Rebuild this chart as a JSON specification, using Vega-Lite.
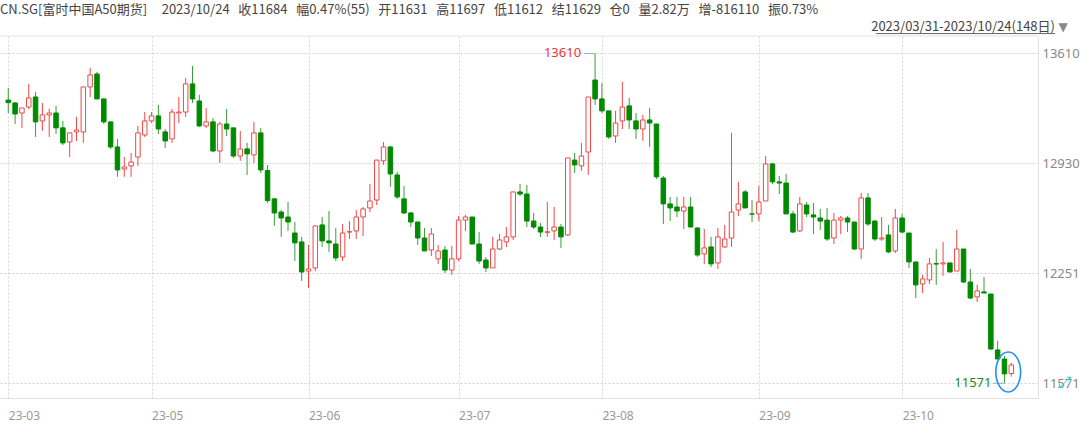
{
  "$schema": "https://vega.github.io/schema/vega-lite/v6.json",
  "width": 1038,
  "height": 362,
  "autosize": {"type": "none"},
  "padding": {"left": 0, "top": 36, "right": 42, "bottom": 28},
  "background": "white",
  "config": {"view": {"stroke": null}, "font": "Noto Sans CJK SC"},
  "title": {
    "text": "CN.SG[富时中国A50期货]\u00a0\u00a0\u00a0\u00a0\u00a02023/10/24\u00a0\u00a0\u00a0收11684\u00a0\u00a0\u00a0幅0.47%(55)\u00a0\u00a0\u00a0开11631\u00a0\u00a0\u00a0高11697\u00a0\u00a0\u00a0低11612\u00a0\u00a0\u00a0结11629\u00a0\u00a0\u00a0仓0\u00a0\u00a0\u00a0量2.82万\u00a0\u00a0\u00a0增-816110\u00a0\u00a0\u00a0振0.73%",
    "anchor": "start",
    "frame": "group",
    "orient": "top",
    "offset": 3,
    "dy": 12,
    "baseline": "bottom",
    "font": "Noto Sans CJK SC",
    "fontSize": 13,
    "fontWeight": "normal",
    "color": "#444"
  },
  "datasets": {
    "k": [
      {"i":0,"o":13322,"h":13397,"l":13242,"c":13306},
      {"i":1,"o":13304,"h":13310,"l":13174,"c":13236},
      {"i":2,"o":13242,"h":13273,"l":13150,"c":13273},
      {"i":3,"o":13279,"h":13422,"l":13267,"c":13335},
      {"i":4,"o":13341,"h":13372,"l":13094,"c":13187},
      {"i":5,"o":13193,"h":13304,"l":13131,"c":13230},
      {"i":6,"o":13230,"h":13267,"l":13094,"c":13242},
      {"i":7,"o":13242,"h":13286,"l":13112,"c":13150},
      {"i":8,"o":13150,"h":13193,"l":13044,"c":13057},
      {"i":9,"o":13063,"h":13119,"l":12970,"c":13119},
      {"i":10,"o":13125,"h":13218,"l":13069,"c":13137},
      {"i":11,"o":13125,"h":13403,"l":13057,"c":13403},
      {"i":12,"o":13403,"h":13521,"l":13341,"c":13477},
      {"i":13,"o":13483,"h":13496,"l":13329,"c":13329},
      {"i":14,"o":13329,"h":13329,"l":13174,"c":13187},
      {"i":15,"o":13187,"h":13187,"l":13020,"c":13032},
      {"i":16,"o":13032,"h":13082,"l":12847,"c":12890},
      {"i":17,"o":12896,"h":12970,"l":12847,"c":12908},
      {"i":18,"o":12915,"h":12995,"l":12847,"c":12939},
      {"i":19,"o":12970,"h":13162,"l":12915,"c":13119},
      {"i":20,"o":13106,"h":13248,"l":13094,"c":13193},
      {"i":21,"o":13193,"h":13248,"l":13180,"c":13224},
      {"i":22,"o":13224,"h":13292,"l":13112,"c":13143},
      {"i":23,"o":13125,"h":13143,"l":13026,"c":13069},
      {"i":24,"o":13082,"h":13267,"l":13057,"c":13248},
      {"i":25,"o":13242,"h":13341,"l":13180,"c":13248},
      {"i":26,"o":13248,"h":13459,"l":13218,"c":13422},
      {"i":27,"o":13422,"h":13533,"l":13304,"c":13329},
      {"i":28,"o":13316,"h":13354,"l":13156,"c":13162},
      {"i":29,"o":13162,"h":13273,"l":13150,"c":13187},
      {"i":30,"o":13187,"h":13211,"l":13001,"c":13007},
      {"i":31,"o":13007,"h":13187,"l":12933,"c":13174},
      {"i":32,"o":13174,"h":13267,"l":13100,"c":13143},
      {"i":33,"o":13150,"h":13150,"l":12964,"c":12976},
      {"i":34,"o":12976,"h":13131,"l":12946,"c":13020},
      {"i":35,"o":13020,"h":13057,"l":12859,"c":12989},
      {"i":36,"o":12983,"h":13187,"l":12933,"c":13119},
      {"i":37,"o":13119,"h":13150,"l":12871,"c":12890},
      {"i":38,"o":12886,"h":12921,"l":12686,"c":12700},
      {"i":39,"o":12711,"h":12717,"l":12544,"c":12624},
      {"i":40,"o":12630,"h":12642,"l":12476,"c":12593},
      {"i":41,"o":12599,"h":12692,"l":12513,"c":12568},
      {"i":42,"o":12500,"h":12568,"l":12327,"c":12439},
      {"i":43,"o":12445,"h":12476,"l":12204,"c":12259},
      {"i":44,"o":12265,"h":12426,"l":12160,"c":12278},
      {"i":45,"o":12284,"h":12544,"l":12265,"c":12544},
      {"i":46,"o":12550,"h":12599,"l":12414,"c":12451},
      {"i":47,"o":12451,"h":12636,"l":12383,"c":12439},
      {"i":48,"o":12432,"h":12531,"l":12327,"c":12346},
      {"i":49,"o":12352,"h":12556,"l":12327,"c":12500},
      {"i":50,"o":12506,"h":12574,"l":12463,"c":12508},
      {"i":51,"o":12513,"h":12642,"l":12463,"c":12599},
      {"i":52,"o":12599,"h":12661,"l":12482,"c":12649},
      {"i":53,"o":12655,"h":12803,"l":12630,"c":12698},
      {"i":54,"o":12704,"h":12951,"l":12673,"c":12951},
      {"i":55,"o":12946,"h":13063,"l":12921,"c":13032},
      {"i":56,"o":13032,"h":13038,"l":12785,"c":12865},
      {"i":57,"o":12859,"h":12878,"l":12711,"c":12723},
      {"i":58,"o":12711,"h":12791,"l":12618,"c":12624},
      {"i":59,"o":12624,"h":12630,"l":12537,"c":12568},
      {"i":60,"o":12568,"h":12568,"l":12426,"c":12469},
      {"i":61,"o":12469,"h":12531,"l":12389,"c":12389},
      {"i":62,"o":12395,"h":12531,"l":12358,"c":12494},
      {"i":63,"o":12340,"h":12426,"l":12309,"c":12389},
      {"i":64,"o":12395,"h":12420,"l":12253,"c":12271},
      {"i":65,"o":12271,"h":12420,"l":12241,"c":12340},
      {"i":66,"o":12340,"h":12605,"l":12327,"c":12580},
      {"i":67,"o":12580,"h":12612,"l":12513,"c":12599},
      {"i":68,"o":12599,"h":12599,"l":12432,"c":12432},
      {"i":69,"o":12432,"h":12506,"l":12309,"c":12327},
      {"i":70,"o":12333,"h":12352,"l":12259,"c":12284},
      {"i":71,"o":12284,"h":12476,"l":12284,"c":12401},
      {"i":72,"o":12401,"h":12494,"l":12395,"c":12457},
      {"i":73,"o":12445,"h":12537,"l":12414,"c":12476},
      {"i":74,"o":12476,"h":12754,"l":12457,"c":12754},
      {"i":75,"o":12754,"h":12803,"l":12729,"c":12741},
      {"i":76,"o":12741,"h":12797,"l":12537,"c":12574},
      {"i":77,"o":12574,"h":12624,"l":12525,"c":12537},
      {"i":78,"o":12537,"h":12562,"l":12476,"c":12506},
      {"i":79,"o":12504,"h":12692,"l":12476,"c":12508},
      {"i":80,"o":12513,"h":12661,"l":12457,"c":12537},
      {"i":81,"o":12537,"h":12556,"l":12407,"c":12476},
      {"i":82,"o":12488,"h":12964,"l":12482,"c":12964},
      {"i":83,"o":12951,"h":12995,"l":12871,"c":12921},
      {"i":84,"o":12915,"h":13057,"l":12884,"c":12976},
      {"i":85,"o":13001,"h":13341,"l":12859,"c":13341},
      {"i":86,"o":13446,"h":13610,"l":13292,"c":13329},
      {"i":87,"o":13329,"h":13428,"l":13242,"c":13255},
      {"i":88,"o":13255,"h":13255,"l":13082,"c":13094},
      {"i":89,"o":13100,"h":13255,"l":13057,"c":13180},
      {"i":90,"o":13193,"h":13434,"l":13143,"c":13279},
      {"i":91,"o":13286,"h":13335,"l":13143,"c":13199},
      {"i":92,"o":13193,"h":13242,"l":13082,"c":13143},
      {"i":93,"o":13143,"h":13230,"l":13069,"c":13199},
      {"i":94,"o":13199,"h":13273,"l":13032,"c":13180},
      {"i":95,"o":13174,"h":13174,"l":12834,"c":12847},
      {"i":96,"o":12840,"h":12853,"l":12556,"c":12680},
      {"i":97,"o":12680,"h":12723,"l":12574,"c":12655},
      {"i":98,"o":12661,"h":12723,"l":12599,"c":12636},
      {"i":99,"o":12636,"h":12723,"l":12525,"c":12661},
      {"i":100,"o":12661,"h":12723,"l":12537,"c":12537},
      {"i":101,"o":12531,"h":12537,"l":12352,"c":12364},
      {"i":102,"o":12371,"h":12525,"l":12309,"c":12408},
      {"i":103,"o":12414,"h":12476,"l":12290,"c":12309},
      {"i":104,"o":12315,"h":12531,"l":12278,"c":12476},
      {"i":105,"o":12414,"h":12550,"l":12408,"c":12463},
      {"i":106,"o":12469,"h":13119,"l":12414,"c":12630},
      {"i":107,"o":12642,"h":12816,"l":12605,"c":12680},
      {"i":108,"o":12754,"h":12766,"l":12655,"c":12655},
      {"i":109,"o":12618,"h":12704,"l":12568,"c":12617},
      {"i":110,"o":12618,"h":12791,"l":12574,"c":12692},
      {"i":111,"o":12698,"h":12976,"l":12698,"c":12927},
      {"i":112,"o":12927,"h":12933,"l":12803,"c":12816},
      {"i":113,"o":12816,"h":12853,"l":12741,"c":12809},
      {"i":114,"o":12809,"h":12865,"l":12618,"c":12618},
      {"i":115,"o":12618,"h":12636,"l":12500,"c":12506},
      {"i":116,"o":12513,"h":12723,"l":12506,"c":12680},
      {"i":117,"o":12673,"h":12692,"l":12599,"c":12618},
      {"i":118,"o":12612,"h":12686,"l":12494,"c":12599},
      {"i":119,"o":12593,"h":12649,"l":12519,"c":12574},
      {"i":120,"o":12580,"h":12655,"l":12451,"c":12463},
      {"i":121,"o":12469,"h":12624,"l":12432,"c":12580},
      {"i":122,"o":12580,"h":12605,"l":12494,"c":12593},
      {"i":123,"o":12593,"h":12605,"l":12506,"c":12568},
      {"i":124,"o":12568,"h":12568,"l":12395,"c":12401},
      {"i":125,"o":12401,"h":12748,"l":12340,"c":12717},
      {"i":126,"o":12717,"h":12748,"l":12544,"c":12556},
      {"i":127,"o":12574,"h":12580,"l":12451,"c":12463},
      {"i":128,"o":12463,"h":12599,"l":12451,"c":12469},
      {"i":129,"o":12488,"h":12550,"l":12377,"c":12383},
      {"i":130,"o":12389,"h":12649,"l":12377,"c":12593},
      {"i":131,"o":12593,"h":12618,"l":12500,"c":12506},
      {"i":132,"o":12500,"h":12500,"l":12284,"c":12321},
      {"i":133,"o":12321,"h":12321,"l":12098,"c":12179},
      {"i":134,"o":12185,"h":12241,"l":12129,"c":12216},
      {"i":135,"o":12210,"h":12346,"l":12185,"c":12309},
      {"i":136,"o":12311,"h":12401,"l":12179,"c":12308},
      {"i":137,"o":12309,"h":12445,"l":12235,"c":12315},
      {"i":138,"o":12315,"h":12315,"l":12259,"c":12259},
      {"i":139,"o":12265,"h":12519,"l":12265,"c":12401},
      {"i":140,"o":12401,"h":12401,"l":12191,"c":12197},
      {"i":141,"o":12197,"h":12278,"l":12092,"c":12098},
      {"i":142,"o":12105,"h":12179,"l":12074,"c":12142},
      {"i":143,"o":12136,"h":12228,"l":12129,"c":12129},
      {"i":144,"o":12123,"h":12123,"l":11777,"c":11783},
      {"i":145,"o":11777,"h":11833,"l":11721,"c":11721},
      {"i":146,"o":11721,"h":11740,"l":11571,"c":11629},
      {"i":147,"o":11631,"h":11697,"l":11612,"c":11684}
    ]
  },
  "layer": [
    {
      "data": {"name": "k"},
      "mark": {"type": "rule", "strokeWidth": 1},
      "encoding": {
        "x": {
          "field": "i", "type": "quantitative",
          "scale": {"domain": [-0.48, 150.18], "nice": false, "zero": false},
          "axis": {
            "values": [0, 21, 44, 66, 87, 110, 131],
            "labelExpr": "datum.value==0?'23-03':datum.value==21?'23-05':datum.value==44?'23-06':datum.value==66?'23-07':datum.value==87?'23-08':datum.value==110?'23-09':'23-10'",
            "labelAlign": "left", "labelOffset": 0, "labelPadding": 12,
            "labelColor": "#999", "labelFontSize": 12, "labelFont": "Noto Sans",
            "labelFlush": false, "labelOverlap": false,
            "ticks": false, "domainColor": "#e3e3e3",
            "grid": true, "gridDash": [2, 2], "gridColor": "#d6d6d6",
            "title": null
          }
        },
        "y": {
          "field": "l", "type": "quantitative",
          "scale": {"domain": [11480, 13718], "nice": false, "zero": false},
          "axis": {
            "orient": "right",
            "values": [11571, 12251, 12930, 13610],
            "format": "d",
            "labelColor": "#888", "labelFontSize": 13, "labelFont": "Noto Sans", "labelPadding": 4,
            "ticks": false, "domainColor": "#e3e3e3",
            "grid": true, "gridDash": [2, 2], "gridColor": "#d0d0d0",
            "title": null
          }
        },
        "y2": {"field": "h"},
        "color": {"condition": {"test": "datum.c >= datum.o", "value": "#f04848"}, "value": "#3c9c3c"}
      }
    },
    {
      "data": {"name": "k"},
      "mark": {"type": "bar", "width": 4.5, "strokeWidth": 1},
      "encoding": {
        "x": {"field": "i", "type": "quantitative"},
        "y": {"field": "o", "type": "quantitative"},
        "y2": {"field": "c"},
        "fill": {"condition": {"test": "datum.c >= datum.o", "value": "#ffffff"}, "value": "#008a00"},
        "stroke": {"condition": {"test": "datum.c >= datum.o", "value": "#f04848"}, "value": "#008a00"}
      }
    },
    {
      "data": {"name": "k"},
      "transform": [{"filter": "datum.i == 86"}],
      "mark": {"type": "text", "align": "right", "baseline": "middle", "dx": -14, "fontSize": 13, "font": "Noto Sans", "color": "#e03a3a"},
      "encoding": {
        "x": {"field": "i", "type": "quantitative"},
        "y": {"field": "h", "type": "quantitative"},
        "text": {"field": "h", "type": "quantitative", "format": "d"}
      }
    },
    {
      "data": {"name": "k"},
      "transform": [{"filter": "datum.i == 86"}],
      "mark": {"type": "rule", "color": "#8fb0c8", "strokeWidth": 1},
      "encoding": {
        "x": {"field": "i", "type": "quantitative"},
        "x2": {"datum": 84.4},
        "y": {"field": "h", "type": "quantitative"}
      }
    },
    {
      "data": {"name": "k"},
      "transform": [{"filter": "datum.i == 146"}],
      "mark": {"type": "text", "align": "right", "baseline": "middle", "dx": -13, "fontSize": 13, "font": "Noto Sans", "color": "#1f8a1f"},
      "encoding": {
        "x": {"field": "i", "type": "quantitative"},
        "y": {"field": "l", "type": "quantitative"},
        "text": {"field": "l", "type": "quantitative", "format": "d"}
      }
    },
    {
      "data": {"name": "k"},
      "transform": [{"filter": "datum.i == 146"}],
      "mark": {"type": "rule", "color": "#8fb0c8", "strokeWidth": 1},
      "encoding": {
        "x": {"field": "i", "type": "quantitative"},
        "x2": {"datum": 144.3},
        "y": {"field": "l", "type": "quantitative"}
      }
    },
    {
      "data": {"name": "k"},
      "transform": [{"filter": "datum.i == 147"}],
      "mark": {"type": "rule", "color": "#e3e3e3", "strokeWidth": 1},
      "encoding": {"y": {"datum": 13718}}
    },
    {
      "data": {"name": "k"},
      "transform": [{"filter": "datum.i == 147"}],
      "mark": {"type": "point", "shape": "M-0.62,0A0.62,1,0,1,0,0.62,0A0.62,1,0,1,0,-0.62,0Z", "size": 1600, "filled": false, "stroke": "#1e8fff", "strokeWidth": 1.6, "opacity": 1},
      "encoding": {"x": {"datum": 146.55}, "y": {"datum": 11641}}
    },
    {
      "data": {"name": "k"},
      "transform": [{"filter": "datum.i == 147"}],
      "mark": {"type": "text", "align": "right", "baseline": "middle", "fontSize": 13, "font": "Noto Sans CJK SC", "color": "#444", "text": "2023/03/31-2023/10/24(148日)"},
      "encoding": {"x": {"datum": 153.4}, "y": {"datum": 13774}}
    },
    {
      "data": {"name": "k"},
      "transform": [{"filter": "datum.i == 147"}],
      "mark": {"type": "rule", "color": "#666", "strokeWidth": 1},
      "encoding": {"x": {"datum": 127.2}, "x2": {"datum": 153.4}, "y": {"datum": 13733}}
    },
    {
      "data": {"name": "k"},
      "transform": [{"filter": "datum.i == 147"}],
      "mark": {"type": "text", "align": "center", "baseline": "middle", "fontSize": 12, "font": "DejaVu Sans", "color": "#888", "text": "▼"},
      "encoding": {"x": {"datum": 154.6}, "y": {"datum": 13774}}
    },
    {
      "data": {"name": "k"},
      "transform": [{"filter": "datum.i == 147"}],
      "mark": {"type": "text", "align": "center", "baseline": "middle", "fontSize": 16, "font": "DejaVu Sans", "color": "#3cc8d8", "text": "⤢"},
      "encoding": {"x": {"datum": 154.8}, "y": {"datum": 11571}}
    }
  ]
}
